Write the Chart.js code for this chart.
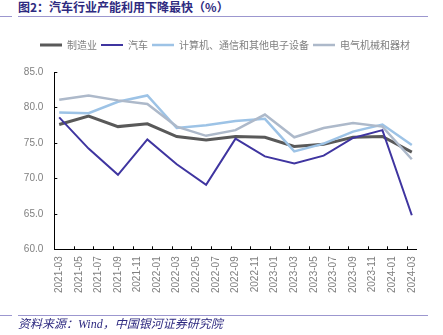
<!DOCTYPE html>
<html>
<head>
<meta charset="utf-8">
<title>汽车行业产能利用下降最快</title>
<style>
  body { margin: 0; width: 443px; height: 335px; background: #fff; position: relative; overflow: hidden; }
  #title { position: absolute; left: 18px; top: 0; font: bold 12px/14px "Noto Sans CJK SC"; color: #2E2A80; white-space: nowrap; }
  .rule { position: absolute; height: 1px; background: #9C97CF; }
  #source { position: absolute; left: 18px; top: 317px; font: italic 12px/14px "Liberation Serif", "Noto Sans CJK SC"; color: #2E2A80; white-space: nowrap; }
  #chart { position: absolute; left: 0; top: 0; }
</style>
</head>
<body>
<script src="https://cdn.jsdelivr.net/npm/chart.js@4.4.1/dist/chart.umd.min.js"></script>

<div id="title">图2：汽车行业产能利用下降最快（%）</div>
<div class="rule" style="left:0;width:12px;top:16px"></div>
<div class="rule" style="left:18px;width:410px;top:16px"></div>
<canvas id="chart" width="443" height="335"></canvas>
<div class="rule" style="left:0;width:12px;top:315px"></div>
<div class="rule" style="left:18px;width:410px;top:315px"></div>
<div id="source">资料来源：Wind，中国银河证券研究院</div>

<script>
// 月份轴（每两个月一个标签）
const months = [
  '2021-03','2021-04','2021-05','2021-06','2021-07','2021-08','2021-09','2021-10','2021-11','2021-12',
  '2022-01','2022-02','2022-03','2022-04','2022-05','2022-06','2022-07','2022-08','2022-09','2022-10',
  '2022-11','2022-12','2023-01','2023-02','2023-03','2023-04','2023-05','2023-06','2023-07','2023-08',
  '2023-09','2023-10','2023-11','2023-12','2024-01','2024-02','2024-03'
];

// 季度数据
const quarters = ['2021-03','2021-06','2021-09','2021-12','2022-03','2022-06','2022-09','2022-12','2023-03','2023-06','2023-09','2023-12','2024-03'];
const manufacturing = [77.6, 78.8, 77.3, 77.7, 75.9, 75.4, 75.9, 75.8, 74.5, 74.8, 75.8, 75.9, 73.7];
const auto          = [78.6, 74.2, 70.5, 75.5, 72.0, 69.1, 75.6, 73.1, 72.1, 73.2, 75.7, 76.8, 64.8];
const electronics   = [79.3, 79.2, 80.8, 81.7, 77.1, 77.5, 78.1, 78.4, 73.8, 74.9, 76.6, 77.6, 74.7];
const electrical    = [81.1, 81.7, 81.0, 80.5, 77.3, 76.0, 76.8, 79.0, 75.8, 77.1, 77.8, 77.3, 72.7];

const seriesNames = ['制造业', '汽车', '计算机、通信和其他电子设备', '电气机械和器材'];
const yTicks = [60, 65, 70, 75, 80, 85];

const points = (vals) => quarters.map((q, i) => ({ x: q, y: vals[i] }));

const tickFont = { family: '"Liberation Sans"', size: 10 };

// 刻度线画在坐标轴内侧
const innerTicks = {
  id: 'innerTicks',
  afterDraw(chart) {
    const { ctx, scales: { x, y } } = chart;
    ctx.save();
    ctx.strokeStyle = '#000';
    ctx.lineWidth = 1;
    ctx.beginPath();
    yTicks.forEach(v => {
      const py = Math.round(y.getPixelForValue(v)) + 0.5;
      ctx.moveTo(x.left, py);
      ctx.lineTo(x.left + 3, py);
    });
    for (let i = 2; i < months.length; i += 2) {
      const px = Math.round((x.getPixelForValue(i) + x.getPixelForValue(i - 1)) / 2) + 0.5;
      ctx.moveTo(px, y.bottom);
      ctx.lineTo(px, y.bottom - 3);
    }
    ctx.stroke();
    ctx.restore();
  }
};

// 图例下方留白
const legendGap = {
  id: 'legendGap',
  afterInit(chart) {
    const fit = chart.legend.fit;
    chart.legend.fit = function () {
      fit.call(this);
      this.height = 36;
    };
  }
};

const ctx = document.getElementById('chart').getContext('2d');
new Chart(ctx, {
  type: 'line',
  data: {
    labels: months,
    datasets: [
      { label: seriesNames[0], data: points(manufacturing), borderColor: '#595959', borderWidth: 3, order: 4 },
      { label: seriesNames[1], data: points(auto), borderColor: '#3F35A0', borderWidth: 2, order: 3 },
      { label: seriesNames[2], data: points(electronics), borderColor: '#9DC3E6', borderWidth: 2.5, order: 2 },
      { label: seriesNames[3], data: points(electrical), borderColor: '#ADB9CA', borderWidth: 2.5, order: 1 }
    ]
  },
  options: {
    responsive: false,
    animation: false,
    elements: { point: { radius: 0 }, line: { tension: 0 } },
    layout: { padding: { top: 36, left: 7, right: 0, bottom: 0 } },
    plugins: {
      tooltip: { enabled: false },
      legend: {
        labels: {
          usePointStyle: true,
          pointStyle: 'line',
          pointStyleWidth: 22,
          padding: 4,
          color: '#7f7f7f',
          font: { family: '"Noto Sans CJK SC"', size: 10 },
          sort: (a, b) => a.datasetIndex - b.datasetIndex
        }
      }
    },
    scales: {
      x: {
        offset: true,
        grid: { display: false, drawTicks: false },
        border: { color: '#000', width: 1 },
        ticks: {
          autoSkip: false, maxRotation: 90, minRotation: 90, padding: 7,
          color: '#7f7f7f', font: tickFont,
          callback: (v, i) => (i % 2 === 0 ? months[i] : '')
        },
        afterFit: (s) => { s.height = 335 - 249.3; }
      },
      y: {
        min: 60, max: 85,
        grid: { display: false, drawTicks: false },
        border: { color: '#000', width: 1 },
        ticks: { stepSize: 5, padding: 11, color: '#7f7f7f', font: tickFont, callback: (v) => v.toFixed(1) },
        afterFit: (s) => { s.width = 54.3 - 7; }
      },
      yRight: {
        position: 'right',
        grid: { display: false, drawTicks: false },
        border: { display: false },
        ticks: { display: false },
        afterFit: (s) => { s.width = 443 - 416.7; }
      }
    }
  },
  plugins: [innerTicks, legendGap]
});
</script>
</body>
</html>
